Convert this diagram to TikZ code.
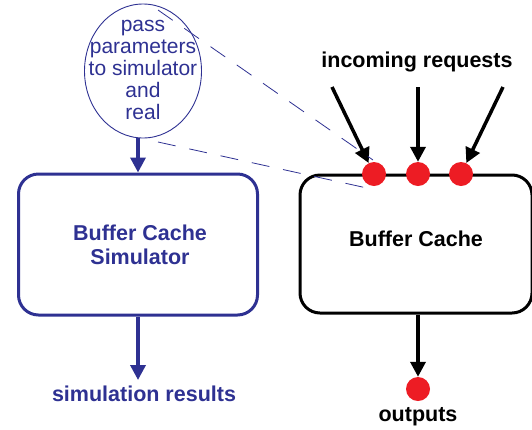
\documentclass[tikz,border=0pt]{standalone}
\usepackage{fontspec}
\setmainfont{Liberation Sans}
\usetikzlibrary{shapes.geometric,arrows.meta}
\definecolor{nblue}{RGB}{46,49,146}
\definecolor{nred}{RGB}{237,28,36}
\begin{document}
\begin{tikzpicture}[x=1pt,y=-1pt,
  box/.style={draw, line width=3pt, rounded corners=20pt, inner sep=0pt},
  dot/.style={circle, fill=nred, minimum size=24pt, inner sep=0pt},
  arr/.style={line width=3.5pt, -{Triangle[length=15pt,width=15pt]}},
  lbl/.style={font=\bfseries\fontsize{21.5}{24}\selectfont, align=center, inner sep=0pt}]
\useasboundingbox (0,0) rectangle (532,429);
% ellipse
\node[ellipse, draw=nblue, line width=0.9pt, minimum width=117pt, minimum height=134pt, inner sep=0pt] (ell) at (143,71) {};
\node[text=nblue, align=center, inner sep=0pt, font=\fontsize{21}{22}\selectfont] (ellt) at (143,70)
  {pass\\parameters\\to simulator\\and\\real};
% boxes
\node[box, draw=nblue, minimum width=239pt, minimum height=141pt] (sim) at (138,244.5) {};
\node[lbl, text=nblue] (simt) at (140,244.5) {Buffer Cache\\Simulator};
\node[box, draw=black, minimum width=232pt, minimum height=138pt] (bc) at (416,244) {};
\node[lbl] (bct) at (416,239) {Buffer Cache};
% dots
\node[dot] (d1) at (374,174) {};
\node[dot] (d2) at (418,174) {};
\node[dot] (d3) at (461,174) {};
\node[dot] (d4) at (418,389) {};
% labels
\node[lbl] (inc) at (417,62) {incoming requests};
\node[lbl, text=nblue] (res) at (144,394) {simulation results};
\node[lbl] (out) at (418,417) {outputs};
% coordinates
\coordinate (s1) at (332,87);
\coordinate (s2) at (418,87);
\coordinate (s3) at (503,87);
\coordinate (e1) at (158,10);
\coordinate (e2) at (158,142);
\coordinate (f1) at (373,160);
\coordinate (f2) at (376,190);
\coordinate (r1) at (138,380);
% arrows
\draw[arr] (s1) -- (d1);
\draw[arr] (s2) -- (d2);
\draw[arr] (s3) -- (d3);
\draw[arr] (bc.south -| d4) -- (d4);
\draw[arr, draw=nblue, fill=nblue] (ell.south -| sim.north) -- (sim.north);
\draw[arr, draw=nblue, fill=nblue] (sim.south) -- (r1);
% dashed
\draw[nblue, line width=0.8pt, dash pattern=on 18pt off 14pt] (e1) -- (f1);
\draw[nblue, line width=0.8pt, dash pattern=on 18pt off 14pt] (e2) -- (f2);
\end{tikzpicture}
\end{document}
